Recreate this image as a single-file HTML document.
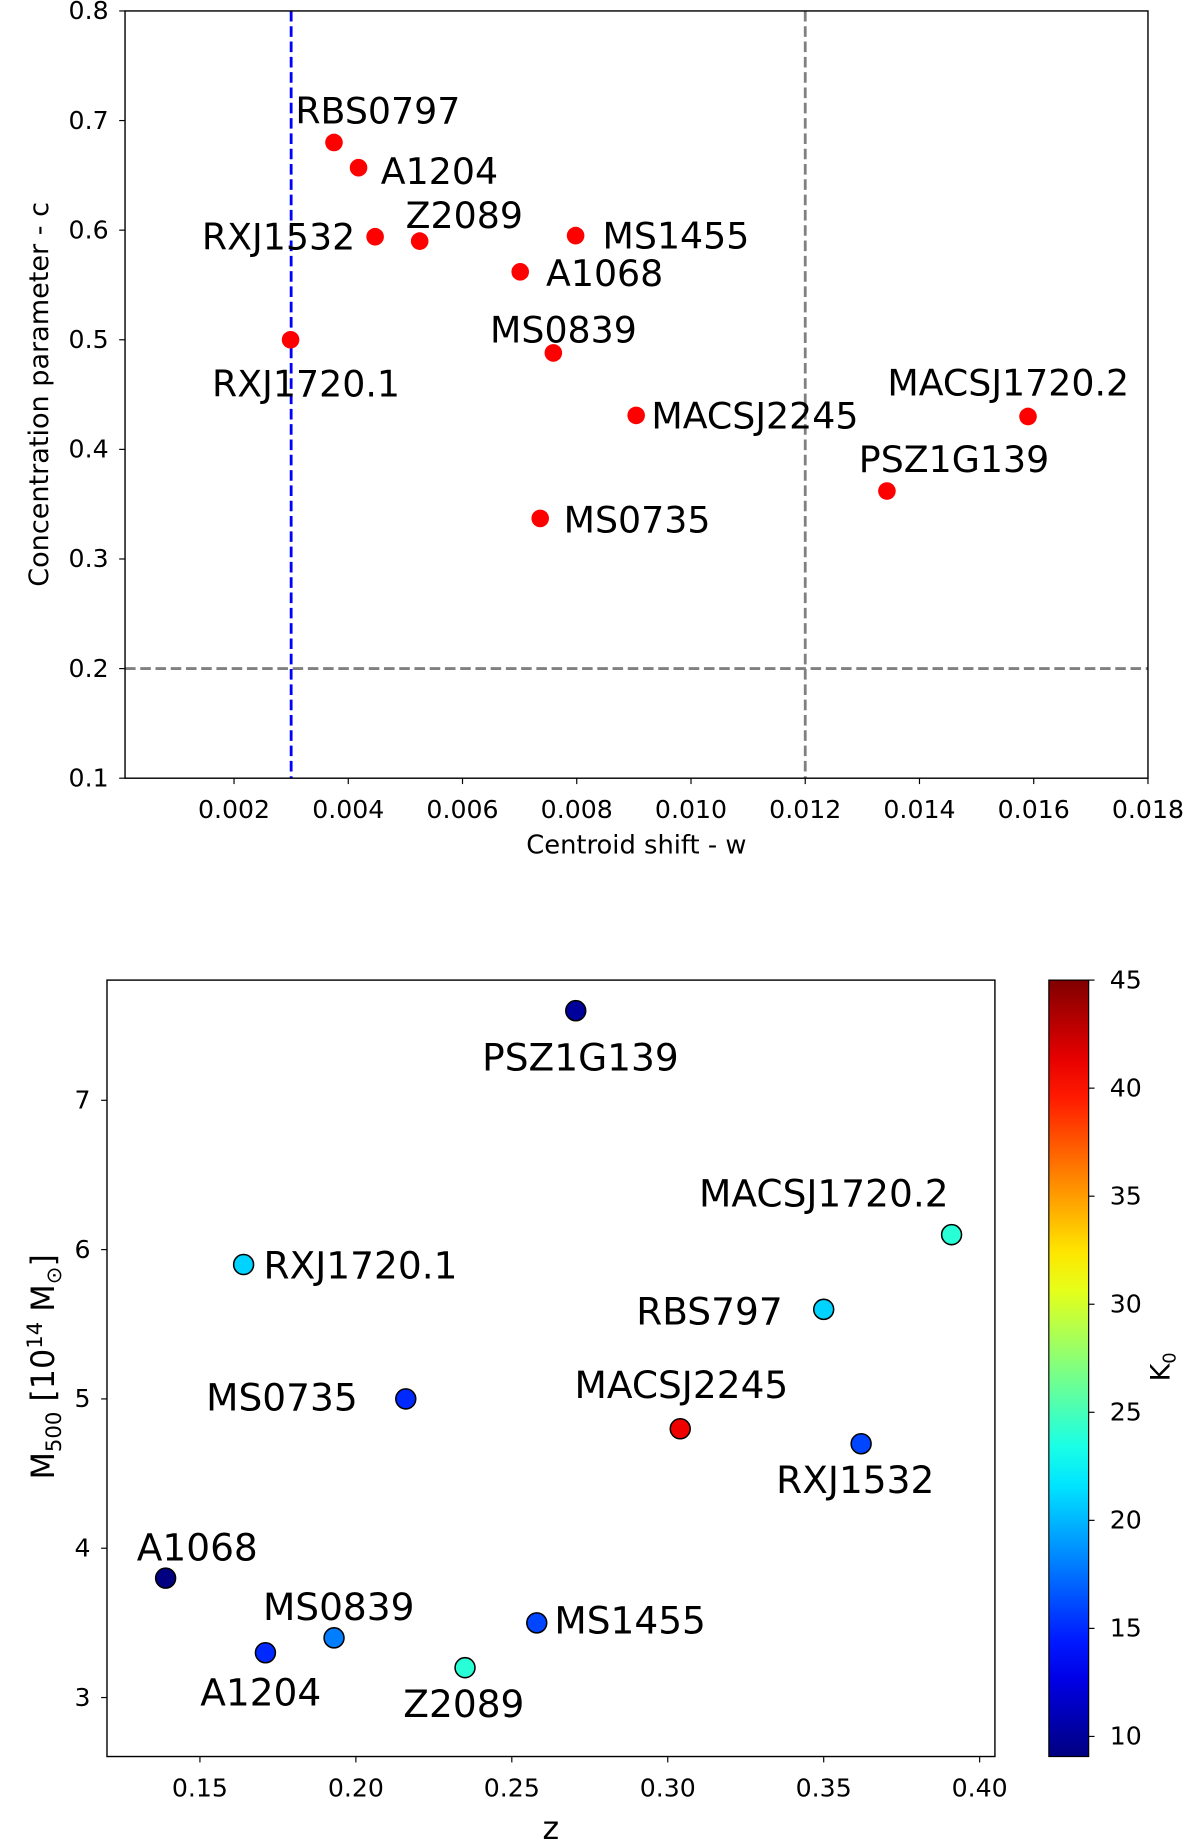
<!DOCTYPE html>
<html><head><meta charset="utf-8"><style>
html,body{margin:0;padding:0;background:#fff}
svg{display:block}
text{font-family:"DejaVu Sans","Liberation Sans",sans-serif;fill:#000}
</style></head><body>
<svg id="fig" width="1200" height="1846" viewBox="0 0 1024 1568" preserveAspectRatio="none" xmlns="http://www.w3.org/2000/svg">
<g id="top"></g>
<g id="bot"></g>
</svg>
<script>
// ---- Top chart data ----
const topNames = ["RBS0797","A1204","RXJ1532","Z2089","MS1455","A1068","MS0839","RXJ1720.1","MACSJ2245","MS0735","PSZ1G139","MACSJ1720.2"];
const topW = [0.00375,0.00418,0.00447,0.00525,0.00798,0.00701,0.00759,0.00299,0.00904,0.00736,0.01343,0.01590];
const topC = [0.680,0.657,0.594,0.590,0.595,0.562,0.488,0.500,0.431,0.337,0.362,0.430];
const topXTicks = [0.002,0.004,0.006,0.008,0.010,0.012,0.014,0.016,0.018];
const topYTicks = [0.1,0.2,0.3,0.4,0.5,0.6,0.7,0.8];
const topThreshW = [0.003,0.012];
const topThreshC = [0.2];
// ---- Bottom chart data ----
const botNames = ["PSZ1G139","MACSJ1720.2","RXJ1720.1","RBS797","MS0735","MACSJ2245","RXJ1532","A1068","A1204","MS0839","MS1455","Z2089"];
const botZ = [0.2705,0.391,0.164,0.350,0.216,0.304,0.362,0.139,0.171,0.193,0.258,0.235];
const botM = [7.6,6.1,5.9,5.6,5.0,4.8,4.7,3.8,3.3,3.4,3.5,3.2];
const botK = [10,24,21,21,15,41,16,9,15,18,16,24];
const botXTicks = [0.15,0.20,0.25,0.30,0.35,0.40];
const botYTicks = [3,4,5,6,7];
const cbTicks = [10,15,20,25,30,35,40,45];

const NS="http://www.w3.org/2000/svg";
function mk(parent,tag,attrs,txt){const e=document.createElementNS(NS,tag);for(const k in attrs)e.setAttribute(k,attrs[k]);if(txt!==undefined)e.textContent=txt;parent.appendChild(e);return e;}

// ===== TOP =====
const T=document.getElementById('top');
const tL=106.7,tR=979.6,tT=9.3,tB=661;
const twMin=0.000092,twMax=0.018,tcMin=0.1,tcMax=0.8;
const tx=v=>tL+(v-twMin)/(twMax-twMin)*(tR-tL);
const ty=v=>tB-(v-tcMin)/(tcMax-tcMin)*(tB-tT);
topThreshW.forEach((w,i)=>{const l=mk(T,'line',{x1:tx(w),x2:tx(w),y1:tT,y2:tB,stroke:i===0?'#0000ff':'#808080','stroke-width':2.4,'stroke-dasharray':'9,4'});

});
topThreshC.forEach(c=>{const l=mk(T,'line',{x1:tL,x2:tR,y1:ty(c),y2:ty(c),stroke:'#808080','stroke-width':2.4,'stroke-dasharray':'9,4'});

});
const tf=mk(T,'rect',{x:tL,y:tT,width:tR-tL,height:tB-tT,fill:'none',stroke:'#000','stroke-width':1.2});


topXTicks.forEach(v=>{mk(T,'line',{x1:tx(v),x2:tx(v),y1:tB,y2:tB+5,stroke:'#000','stroke-width':1});
const t=mk(T,'text',{x:tx(v),y:tB+34,'font-size':21.5,'text-anchor':'middle'},v.toFixed(3));

});
topYTicks.forEach(v=>{mk(T,'line',{x1:tL-5,x2:tL,y1:ty(v),y2:ty(v),stroke:'#000','stroke-width':1});
const t=mk(T,'text',{x:tL-14,y:ty(v)+7,'font-size':21.5,'text-anchor':'end'},v.toFixed(1));

});
const txl=mk(T,'text',{x:543,y:725,'font-size':22,'text-anchor':'middle'},'Centroid shift - w');


const tyl=mk(T,'text',{x:0,y:0,'font-size':23,'text-anchor':'middle',transform:'translate(41,335) rotate(-90)'},'Concentration parameter - c');


const topLab={"RBS0797":[-33,-27,'start'],"A1204":[19,3,'start'],"RXJ1532":[-17,0,'end'],"Z2089":[-12,-22,'start'],"MS1455":[23,0,'start'],"A1068":[22,1,'start'],"MS0839":[-54,-20,'start'],"RXJ1720.1":[-67,37,'start'],"MACSJ2245":[13,0,'start'],"MS0735":[20,1,'start'],"PSZ1G139":[-24,-27,'start'],"MACSJ1720.2":[-120,-29,'start']};
topNames.forEach((n,i)=>{const c=mk(T,'circle',{cx:tx(topW[i]),cy:ty(topC[i]),r:7.5,fill:'#ff0000'});


const o=topLab[n];const t=mk(T,'text',{x:tx(topW[i])+o[0],y:ty(topC[i])+o[1]+11,'font-size':31,'text-anchor':o[2]},n);

});

// ===== BOTTOM =====
const B=document.getElementById('bot');
const bL=91.3,bR=849,bT=832.5,bB=1492;
const bzMin=0.1202,bzMax=0.4049,bmMin=2.605,bmMax=7.805;
const bx=v=>bL+(v-bzMin)/(bzMax-bzMin)*(bR-bL);
const by=v=>bB-(v-bmMin)/(bmMax-bmMin)*(bB-bT);
const kMin=9.07,kMax=45;
function jet(v){const t=Math.max(0,Math.min(1,(v-kMin)/(kMax-kMin)));const cl=x=>Math.round(255*Math.max(0,Math.min(1,x)));
return 'rgb('+cl(1.5-Math.abs(4*t-3))+','+cl(1.5-Math.abs(4*t-2))+','+cl(1.5-Math.abs(4*t-1))+')';}
const bf=mk(B,'rect',{x:bL,y:bT,width:bR-bL,height:bB-bT,fill:'none',stroke:'#000','stroke-width':1.2});


botXTicks.forEach(v=>{mk(B,'line',{x1:bx(v),x2:bx(v),y1:bB,y2:bB+5,stroke:'#000','stroke-width':1});
const t=mk(B,'text',{x:bx(v),y:bB+34,'font-size':21.5,'text-anchor':'middle'},v.toFixed(2));

});
botYTicks.forEach(v=>{mk(B,'line',{x1:bL-5,x2:bL,y1:by(v),y2:by(v),stroke:'#000','stroke-width':1});
const t=mk(B,'text',{x:bL-14,y:by(v)+7,'font-size':21.5,'text-anchor':'end'},String(v));

});
const bxl=mk(B,'text',{x:470,y:1562,'font-size':27,'text-anchor':'middle'},'z');


const byl=mk(B,'text',{x:0,y:0,'font-size':27,'text-anchor':'middle',transform:'translate(46,1161) rotate(-90)'});


byl.innerHTML='M<tspan font-size="18" dy="6">500</tspan><tspan dy="-6"> [10</tspan><tspan font-size="18" dy="-10">14</tspan><tspan dy="10"> M</tspan><tspan font-size="18" dy="6">⊙</tspan><tspan dy="-6">]</tspan>';
const cL=895,cR=929;
const cy=v=>bB-(v-kMin)/(kMax-kMin)*(bB-bT);
const defs=mk(B,'defs',{});const g=mk(defs,'linearGradient',{id:'jetg',x1:0,y1:1,x2:0,y2:0});
for(let i=0;i<=20;i++){const v=kMin+(kMax-kMin)*i/20;mk(g,'stop',{offset:(i/20),'stop-color':jet(v)});}
const cb=mk(B,'rect',{x:cL,y:bT,width:cR-cL,height:bB-bT,fill:'url(#jetg)',stroke:'#000','stroke-width':1});


cbTicks.forEach(v=>{mk(B,'line',{x1:cR,x2:cR+5,y1:cy(v),y2:cy(v),stroke:'#000','stroke-width':1});
const t=mk(B,'text',{x:cR+18,y:cy(v)+7,'font-size':21.5},String(v));

});
const cbl=mk(B,'text',{x:0,y:0,'font-size':23,'text-anchor':'middle',transform:'translate(998,1161) rotate(-90)'});


cbl.innerHTML='K<tspan font-size="15" dy="5">0</tspan>';
const botLab={"PSZ1G139":[4,40,'middle'],"MACSJ1720.2":[-109,-35,'middle'],"RXJ1720.1":[17,1,'start'],"RBS797":[-35,2,'end'],"MS0735":[-41,-1,'end'],"MACSJ2245":[1,-37,'middle'],"RXJ1532":[-5,31,'middle'],"A1068":[27,-26,'middle'],"A1204":[-4,34,'middle'],"MS0839":[4,-26,'middle'],"MS1455":[15,-2,'start'],"Z2089":[-1,31,'middle']};
botNames.forEach((n,i)=>{const px=bx(botZ[i]),py=by(botM[i]);
const c=mk(B,'circle',{cx:px,cy:py,r:8.5,fill:jet(botK[i]),stroke:'#000','stroke-width':1.3});


const o=botLab[n];const t=mk(B,'text',{x:px+o[0],y:py+o[1]+11,'font-size':32,'text-anchor':o[2]},n);

});
</script>
</body></html>
